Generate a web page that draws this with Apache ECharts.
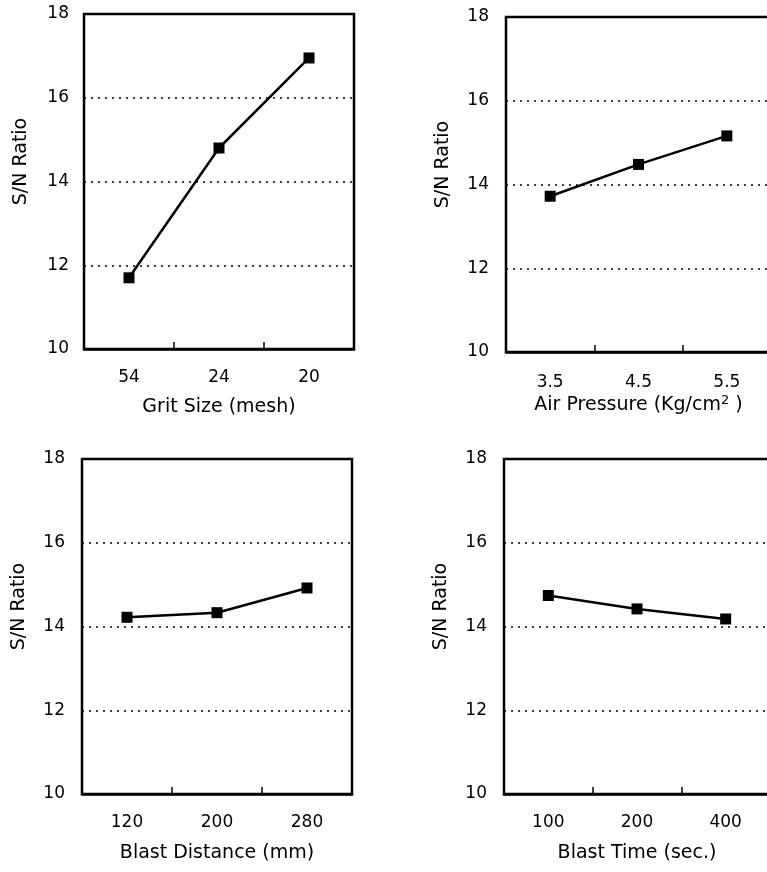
<!DOCTYPE html>
<html>
<head>
<meta charset="utf-8">
<script src="https://cdn.jsdelivr.net/npm/echarts@6/dist/echarts.min.js"></script>
<style>
  html, body { margin: 0; padding: 0; background: #fff; }
  #main { width: 767px; height: 872px; }
</style>
</head>
<body>
<div id="main"></div>
<script>
// y scale shared by all four panels
var yMin = 10
var yMax = 18
var yStep = 2

// factor levels and S/N ratios
var gritSize = ['54', '24', '20']
var gritSN = [11.7, 14.8, 16.95]

var airPressure = ['3.5', '4.5', '5.5']
var airSN = [13.72, 14.48, 15.16]

var blastDistance = ['120', '200', '280']
var distanceSN = [14.22, 14.33, 14.92]

var blastTime = ['100', '200', '400']
var timeSN = [14.74, 14.42, 14.18]

var FONT = '"DejaVu Sans", sans-serif'

var panels = [
  { cats: gritSize, vals: gritSN, name: 'Grit Size (mesh)', box: [84, 14, 270, 335], labelGap: 15, xMargin: 20, xNameGap: 49 },
  { cats: airPressure, vals: airSN, name: 'Air Pressure (Kg/cm{sup|2} )', box: [506, 17, 265, 335], labelGap: 17, xMargin: 22, xNameGap: 42 },
  { cats: blastDistance, vals: distanceSN, name: 'Blast Distance (mm)', box: [82, 459, 270, 335], labelGap: 17, xMargin: 20, xNameGap: 50 },
  { cats: blastTime, vals: timeSN, name: 'Blast Time (sec.)', box: [504, 459, 266, 335], labelGap: 17, xMargin: 20, xNameGap: 50 }
]

var grids = [], xAxes = [], yAxes = [], series = []

panels.forEach(function (p, i) {
  grids.push({
    left: p.box[0], top: p.box[1], width: p.box[2], height: p.box[3],
    show: true, borderColor: '#000', borderWidth: 2.5,
    backgroundColor: 'transparent',
    containLabel: false, outerBoundsMode: 'none'
  })
  xAxes.push({
    gridIndex: i,
    type: 'category',
    data: p.cats,
    boundaryGap: true,
    name: p.name,
    nameLocation: 'middle',
    nameGap: p.xNameGap,
    nameTextStyle: {
      color: '#000', fontFamily: FONT, fontSize: 19,
      rich: { sup: { color: '#000', fontFamily: FONT, fontSize: 13, padding: [0, 0, 9, 0] } }
    },
    axisLine: { show: true, lineStyle: { color: '#000', width: 2.5 } },
    axisTick: { show: true, inside: true, length: 7, lineStyle: { color: '#000', width: 1.5 } },
    axisLabel: { color: '#000', fontFamily: FONT, fontSize: 17, margin: p.xMargin },
    splitLine: { show: false }
  })
  yAxes.push({
    gridIndex: i,
    type: 'value',
    min: yMin, max: yMax, interval: yStep,
    name: 'S/N Ratio',
    nameLocation: 'middle',
    nameGap: 53,
    nameTextStyle: { color: '#000', fontFamily: FONT, fontSize: 19, padding: [0, 0, 0, 40] },
    axisLine: { show: false },
    axisTick: { show: false },
    axisLabel: { color: '#000', fontFamily: FONT, fontSize: 17, margin: p.labelGap },
    splitLine: { show: true, lineStyle: { color: '#000', width: 1.5, type: [2, 5] } }
  })
  series.push({
    type: 'line',
    xAxisIndex: i, yAxisIndex: i,
    data: p.vals,
    symbol: 'rect',
    symbolSize: 11,
    itemStyle: { color: '#000' },
    lineStyle: { color: '#000', width: 2.5 },
    silent: true,
    animation: false
  })
})

var chart = echarts.init(document.getElementById('main'))
chart.setOption({
  backgroundColor: '#fff',
  animation: false,
  grid: grids,
  xAxis: xAxes,
  yAxis: yAxes,
  series: series
})
</script>
</body>
</html>
